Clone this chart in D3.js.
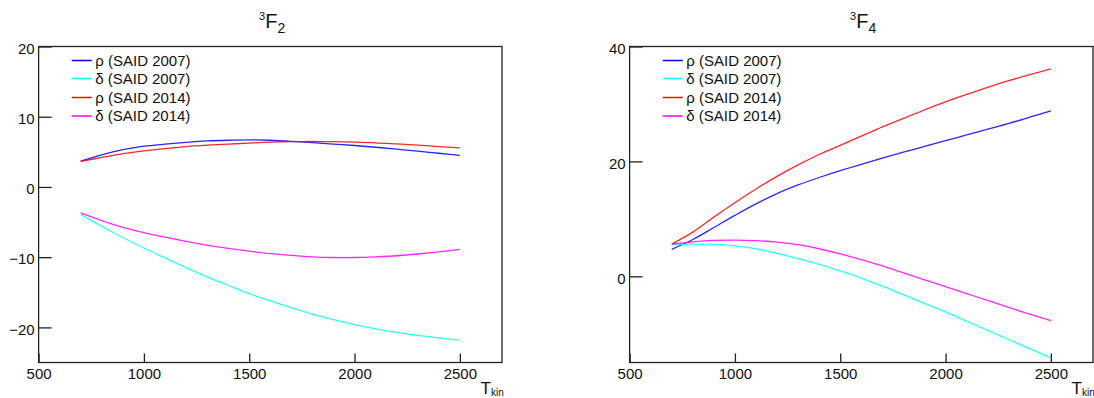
<!DOCTYPE html>
<html><head><meta charset="utf-8">
<script src="https://cdn.jsdelivr.net/npm/d3@7"></script>
<style>
html,body{margin:0;padding:0;background:#fff;}
svg{display:block;font-family:"Liberation Sans",Arial,Helvetica,sans-serif;}
</style></head>
<body>
<script>
// ---- data ----
const energies = [700,800,900,1000,1100,1200,1300,1400,1500,1600,1700,1800,1900,2000,2100,2200,2300,2400,2500];
const xTicks = [500,1000,1500,2000,2500];
const seriesLabels = ["ρ (SAID 2007)","δ (SAID 2007)","ρ (SAID 2014)","δ (SAID 2014)"];
const seriesColors = ["#0000ff","#00ffff","#ff0000","#ff00ff"];

// 3F2
const f2Rho2007   = [3.66,4.55,5.3,5.8,6.1,6.35,6.55,6.65,6.7,6.65,6.5,6.3,6.1,5.9,5.65,5.38,5.1,4.8,4.5];
const f2Delta2007 = [-3.9,-5.6,-7.2,-8.7,-10.1,-11.5,-12.8,-14.0,-15.2,-16.2,-17.2,-18.1,-18.9,-19.6,-20.2,-20.7,-21.15,-21.5,-21.8];
const f2Rho2014   = [3.66,4.2,4.75,5.15,5.45,5.75,5.95,6.1,6.25,6.38,6.45,6.47,6.44,6.38,6.28,6.12,5.95,5.75,5.55];
const f2Delta2014 = [-3.7,-4.8,-5.75,-6.5,-7.15,-7.75,-8.3,-8.75,-9.15,-9.5,-9.75,-9.95,-10.05,-10.05,-9.95,-9.8,-9.55,-9.25,-8.9];
const f2YTicks = [-20,-10,0,10,20];

// 3F4
const f4Rho2007   = [4.7,6.4,8.5,10.6,12.6,14.4,15.9,17.2,18.4,19.5,20.55,21.6,22.6,23.6,24.6,25.6,26.6,27.7,28.8];
const f4Delta2007 = [5.5,5.6,5.55,5.3,4.8,4.0,3.1,2.1,0.95,-0.3,-1.7,-3.2,-4.7,-6.2,-7.8,-9.4,-11.0,-12.6,-14.2];
const f4Rho2014   = [5.6,7.7,10.3,12.8,15.2,17.4,19.4,21.2,22.8,24.4,26.0,27.5,28.95,30.35,31.65,32.9,34.05,35.1,36.1];
const f4Delta2014 = [5.6,6.0,6.25,6.3,6.2,5.95,5.5,4.8,3.9,2.9,1.8,0.6,-0.6,-1.8,-3.0,-4.2,-5.4,-6.6,-7.7];
const f4YTicks = [0,20,40];

// ---- drawing ----
const W = 1094, H = 398;
const svg = d3.select("body").append("svg").attr("width", W).attr("height", H);

const panels = [
  {left:38.6, sub:"2", yDomain:[-25,20], yTicks:f2YTicks, series:[f2Rho2007,f2Delta2007,f2Rho2014,f2Delta2014]},
  {left:629.6, sub:"4", yDomain:[-15,40], yTicks:f4YTicks, series:[f4Rho2007,f4Delta2007,f4Rho2014,f4Delta2014]}
];
const plotW = 463.4, plotTop = 46.5, plotBottom = 362.5;
const FONT = "'Liberation Sans',Arial,sans-serif";

panels.forEach(p => {
  const g = svg.append("g");
  const x = d3.scaleLinear().domain([500,2700]).range([p.left, p.left+plotW]);
  const y = d3.scaleLinear().domain(p.yDomain).range([plotBottom, plotTop]);

  // curves
  const line = d3.line().x((d,i)=>x(energies[i])).y(d=>y(d)).curve(d3.curveCatmullRom.alpha(0.5));
  p.series.forEach((s,k) => {
    g.append("path").datum(s).attr("d", line)
      .attr("fill","none").attr("stroke", seriesColors[k]).attr("stroke-width",1.3).attr("stroke-opacity",0.85);
  });

  // frame
  g.append("rect").attr("x", p.left).attr("y", plotTop).attr("width", plotW).attr("height", plotBottom-plotTop)
    .attr("fill","none").attr("stroke","#222").attr("stroke-width",1.3);

  // axes
  const ya = g.append("g").attr("transform",`translate(${p.left},0)`)
    .call(d3.axisLeft(y).tickValues(p.yTicks).tickSizeInner(-13).tickSizeOuter(0).tickPadding(4));
  ya.select(".domain").remove();
  ya.selectAll("line").attr("stroke","#222").attr("stroke-width",1.3);
  ya.selectAll("text").attr("font-size",15).attr("fill","#111").attr("dy","0.45em").attr("font-family",FONT);

  const xa = g.append("g").attr("transform",`translate(0,${plotBottom})`)
    .call(d3.axisBottom(x).tickValues(xTicks).tickSizeInner(-9).tickSizeOuter(0).tickPadding(6).tickFormat(d3.format("d")));
  xa.select(".domain").remove();
  xa.selectAll("line").attr("stroke","#222").attr("stroke-width",1.3);
  xa.selectAll("text").attr("font-size",15).attr("fill","#111").attr("font-family",FONT);

  // axis title T_kin
  const xt = g.append("text").attr("x", p.left+442).attr("y", 393.5).attr("fill","#111").attr("font-family",FONT);
  xt.append("tspan").attr("font-size",17).text("T");
  xt.append("tspan").attr("font-size",10).attr("dy",2.5).text("kin");

  // title ^3F_n
  const tt = g.append("text").attr("x", p.left+220.5).attr("y", 28).attr("fill","#111").attr("font-family",FONT);
  tt.append("tspan").attr("font-size",11).attr("dy",-8).text("3");
  tt.append("tspan").attr("font-size",20).attr("dy",8).text("F");
  tt.append("tspan").attr("font-size",14).attr("dy",5).text(p.sub);

  // legend
  const legYs = [60.5,78.5,97.5,116];
  const lx = p.left + 33.2;
  seriesLabels.forEach((lab,k) => {
    g.append("line").attr("x1",lx).attr("x2",lx+20).attr("y1",legYs[k]).attr("y2",legYs[k])
      .attr("stroke",seriesColors[k]).attr("stroke-width",1.5);
    g.append("text").attr("x",lx+23.5).attr("y",legYs[k]+5.3).attr("font-size",15).attr("fill","#111")
      .attr("font-family",FONT).text(lab);
  });
});
</script>
</body></html>
